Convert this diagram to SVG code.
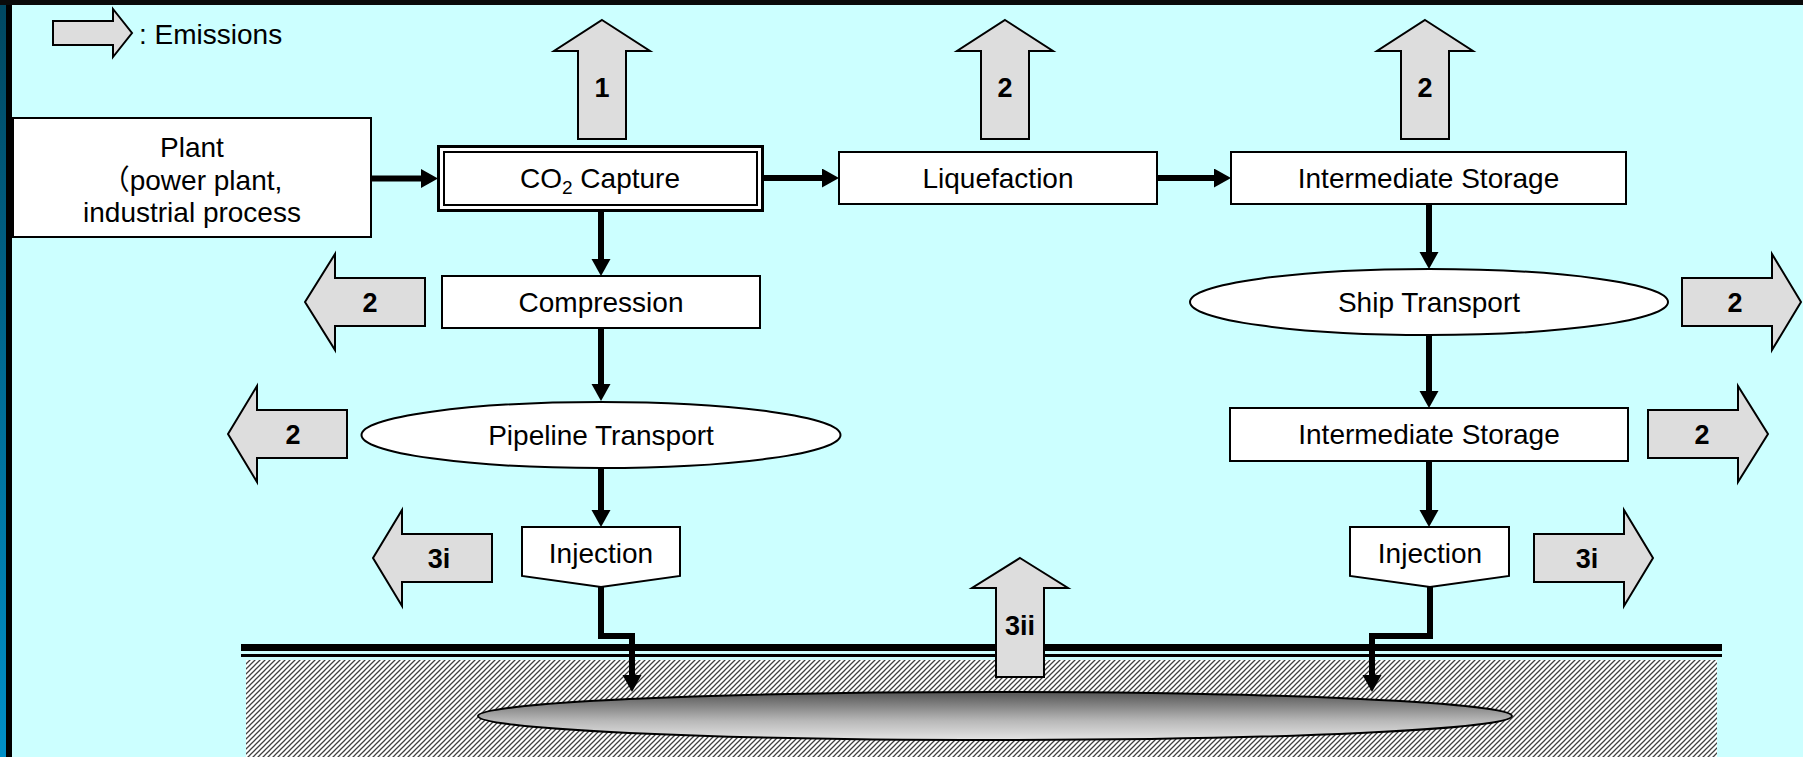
<svg xmlns="http://www.w3.org/2000/svg" width="1803" height="757" viewBox="0 0 1803 757">
<defs>
<linearGradient id="edge" x1="0" y1="0" x2="0" y2="1"><stop offset="0" stop-color="#004760"/><stop offset="1" stop-color="#0090c8"/></linearGradient>
<linearGradient id="res" x1="0" y1="0" x2="0" y2="1"><stop offset="0" stop-color="#555555"/><stop offset="0.6" stop-color="#b8b8b8"/><stop offset="1" stop-color="#e4e4e4"/></linearGradient>
<pattern id="hatch" patternUnits="userSpaceOnUse" width="5" height="5">
<rect width="5" height="5" fill="#ffffff"/>
<path d="M0,5 L5,0 M-1,1 L1,-1 M4,6 L6,4" stroke="#404040" stroke-width="1.25"/>
</pattern>
<marker id="ah" markerUnits="userSpaceOnUse" markerWidth="18" markerHeight="20" refX="0" refY="9.5" orient="auto">
<path d="M0,0 L17,9.5 L0,19 z" fill="#000"/>
</marker>
</defs>
<style>
.box{fill:#fff;stroke:#000;stroke-width:2}
.em{fill:#dddddd;stroke:#000;stroke-width:2;stroke-linejoin:miter}
.t{font-family:'Liberation Sans','Noto Sans CJK JP',Arial,sans-serif;font-size:28px;fill:#000;text-anchor:middle}
.n{font-family:'Liberation Sans',Arial,sans-serif;font-size:27px;font-weight:bold;fill:#000;text-anchor:middle}
.c{fill:none;stroke:#000;stroke-width:6;marker-end:url(#ah)}
</style>

<!-- background -->
<rect x="0" y="0" width="1803" height="757" fill="#CCFFFF"/>
<rect x="0" y="0" width="6" height="757" fill="url(#edge)"/>
<rect x="6" y="0" width="6" height="757" fill="#000"/>
<rect x="0" y="0" width="1803" height="5" fill="#0a0a0a"/>

<!-- ground -->
<g id="ground">
<rect x="246" y="660" width="1471" height="97" fill="url(#hatch)"/>
<rect x="241" y="644" width="1481" height="7" fill="#000"/>
<rect x="241" y="654" width="1481" height="3" fill="#000"/>
<ellipse id="reservoir" cx="995" cy="716" rx="517" ry="24" fill="url(#res)" stroke="#000" stroke-width="2"/>
</g>

<!-- legend -->
<g id="legend">
<polygon class="em" points="53,21 113,21 113,9 132,33 113,57 113,45 53,45"/>
<text class="t" x="139" y="44" style="text-anchor:start">: Emissions</text>
</g>

<!-- connectors -->
<g id="connectors">
<path class="c" d="M371,178.5 H421"/>
<path class="c" d="M763,178 H822"/>
<path class="c" d="M1157,178 H1214"/>
<path class="c" d="M601,211 V259"/>
<path class="c" d="M601,328 V384"/>
<path class="c" d="M601,468 V510"/>
<path class="c" d="M1429,204 V252"/>
<path class="c" d="M1429,335 V391"/>
<path class="c" d="M1429,461 V510"/>
<path class="c" d="M601,587 V636 H632 V675" style="stroke-linejoin:miter"/>
<path class="c" d="M1430,587 V636 H1372 V675" style="stroke-linejoin:miter"/>
</g>

<!-- nodes -->
<g id="plant">
<rect class="box" x="13" y="118" width="358" height="119"/>
<text class="t" x="192" y="157">Plant</text>
<text class="t" x="192" y="190">（power plant,</text>
<text class="t" x="192" y="222">industrial process</text>
</g>
<g id="capture">
<rect x="438.5" y="146.5" width="324" height="64" fill="#fff" stroke="#000" stroke-width="3"/>
<rect x="444" y="152" width="313" height="53" fill="none" stroke="#000" stroke-width="2"/>
<text class="t" x="600" y="188">CO<tspan font-size="19" dy="6">2</tspan><tspan dy="-6"> Capture</tspan></text>
</g>
<g id="liquefaction">
<rect class="box" x="839" y="152" width="318" height="52"/>
<text class="t" x="998" y="188">Liquefaction</text>
</g>
<g id="storage1">
<rect class="box" x="1231" y="152" width="395" height="52"/>
<text class="t" x="1428.5" y="188">Intermediate Storage</text>
</g>
<g id="compression">
<rect class="box" x="442" y="276" width="318" height="52"/>
<text class="t" x="601" y="312">Compression</text>
</g>
<g id="pipeline">
<ellipse class="box" cx="601" cy="435" rx="239.5" ry="33"/>
<text class="t" x="601" y="445">Pipeline Transport</text>
</g>
<g id="ship">
<ellipse class="box" cx="1429" cy="302" rx="239" ry="33"/>
<text class="t" x="1429" y="312">Ship Transport</text>
</g>
<g id="storage2">
<rect class="box" x="1230" y="408" width="398" height="53"/>
<text class="t" x="1429" y="444">Intermediate Storage</text>
</g>
<g id="injection1">
<polygon class="box" points="522,527 680,527 680,576 601,587 522,576"/>
<text class="t" x="601" y="563">Injection</text>
</g>
<g id="injection2">
<polygon class="box" points="1350,527 1509,527 1509,576 1430,587 1350,576"/>
<text class="t" x="1430" y="563">Injection</text>
</g>

<!-- emission arrows -->
<g id="em1">
<polygon class="em" points="602,20 650,51 626,51 626,139 578,139 578,51 554,51"/>
<text class="n" x="602" y="97">1</text>
</g>
<g id="em2-liq">
<polygon class="em" points="1005,20 1053,51 1029,51 1029,139 981,139 981,51 957,51"/>
<text class="n" x="1005" y="97">2</text>
</g>
<g id="em2-sto">
<polygon class="em" points="1425,20 1473,51 1449,51 1449,139 1401,139 1401,51 1377,51"/>
<text class="n" x="1425" y="97">2</text>
</g>
<g id="em2-comp">
<polygon class="em" points="305,302 335,254 335,278 425,278 425,326 335,326 335,350"/>
<text class="n" x="370" y="312">2</text>
</g>
<g id="em2-pipe">
<polygon class="em" points="228,434 257,386 257,410 347,410 347,458 257,458 257,482"/>
<text class="n" x="293" y="444">2</text>
</g>
<g id="em3i-left">
<polygon class="em" points="373,558 402,510 402,534 492,534 492,582 402,582 402,606"/>
<text class="n" x="439" y="568">3i</text>
</g>
<g id="em2-ship">
<polygon class="em" points="1682,278 1772,278 1772,254 1801,302 1772,350 1772,326 1682,326"/>
<text class="n" x="1735" y="312">2</text>
</g>
<g id="em2-sto2">
<polygon class="em" points="1648,410 1738,410 1738,386 1768,434 1738,482 1738,458 1648,458"/>
<text class="n" x="1702" y="444">2</text>
</g>
<g id="em3i-right">
<polygon class="em" points="1534,534 1624,534 1624,510 1653,558 1624,606 1624,582 1534,582"/>
<text class="n" x="1587" y="568">3i</text>
</g>
<g id="em3ii">
<polygon class="em" points="1020,558 1068,588 1044,588 1044,677 996,677 996,588 972,588"/>
<text class="n" x="1020" y="635">3ii</text>
</g>
</svg>
